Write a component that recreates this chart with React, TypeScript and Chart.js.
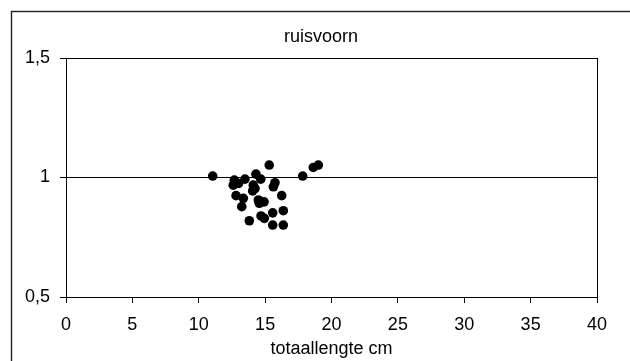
import React, { useEffect, useRef } from "react";
import { Chart, registerables } from "chart.js";

Chart.register(...registerables);

// Total length (cm) per fish
const lengthCm: number[] = [
  11.05, 12.68, 12.6, 13.0, 13.48, 14.31, 14.67, 15.31, 15.74, 15.62,
  14.11, 14.06, 14.24, 12.81, 13.36, 13.24, 14.49, 14.92, 14.56, 16.25,
  13.81, 14.69, 14.94, 15.57, 16.37, 15.57, 16.37, 17.83, 18.63, 19.01,
];

// Condition ratio per fish
const ratio: number[] = [
  1.006, 0.989, 0.968, 0.975, 0.993, 1.014, 0.993, 1.052, 0.978, 0.961,
  0.968, 0.944, 0.954, 0.924, 0.913, 0.878, 0.906, 0.898, 0.892, 0.924,
  0.819, 0.839, 0.829, 0.852, 0.861, 0.801, 0.801, 1.006, 1.042, 1.052,
];

const chartTitle = "ruisvoorn";
const xTitle = "totaallengte cm";
const xMin = 0;
const xMax = 40;
const xStep = 5;
const yMin = 0.5;
const yMax = 1.5;
const yStep = 0.5;

const FONT = "'Liberation Sans', Arial, sans-serif";

// Outer frame, plot frame and centred heading
const framePlugin = {
  id: "frame",
  beforeDraw(chart: any) {
    const { ctx } = chart;
    ctx.save();
    ctx.fillStyle = "#ffffff";
    ctx.fillRect(0, 0, chart.width, chart.height);
    ctx.strokeStyle = "#222222";
    ctx.lineWidth = 1.4;
    ctx.strokeRect(11.5, 11.5, chart.width + 20, chart.height + 20);
    ctx.fillStyle = "#000000";
    ctx.font = `18px ${FONT}`;
    ctx.textAlign = "center";
    ctx.textBaseline = "middle";
    ctx.fillText(chartTitle, 321, 37);
    ctx.restore();
  },
  afterDatasetsDraw(chart: any) {
    const { ctx, chartArea } = chart;
    ctx.save();
    ctx.strokeStyle = "#000000";
    ctx.lineWidth = 1;
    const l = Math.round(chartArea.left) + 0.5;
    const t = Math.round(chartArea.top) + 0.5;
    const r = Math.round(chartArea.right) + 0.5;
    const b = Math.round(chartArea.bottom) + 0.5;
    ctx.strokeRect(l, t, r - l, b - t);
    ctx.restore();
  },
};

export default function App() {
  const canvasRef = useRef<HTMLCanvasElement | null>(null);

  useEffect(() => {
    const canvas = canvasRef.current;
    if (!canvas) return;
    const points = lengthCm.map((x, i) => ({ x, y: ratio[i] }));
    const chart = new Chart(canvas, {
      type: "scatter",
      data: {
        datasets: [
          {
            data: points,
            backgroundColor: "#000000",
            borderColor: "#000000",
            borderWidth: 0,
            pointRadius: 4.8,
            pointHoverRadius: 4.8,
          },
        ],
      },
      plugins: [framePlugin],
      options: {
        responsive: false,
        animation: false,
        events: [],
        layout: { padding: { top: 58, right: 33, left: 0, bottom: 0 } },
        plugins: {
          legend: { display: false },
          title: { display: false },
          tooltip: { enabled: false },
        },
        scales: {
          x: {
            type: "linear",
            min: xMin,
            max: xMax,
            ticks: {
              stepSize: xStep,
              color: "#000000",
              font: { family: FONT, size: 18 },
              padding: 11,
              maxRotation: 0,
            },
            grid: {
              drawOnChartArea: false,
              drawTicks: true,
              tickLength: 6,
              color: "#000000",
            },
            border: { display: true, color: "#000000" },
            title: {
              display: true,
              text: xTitle,
              color: "#000000",
              font: { family: FONT, size: 18 },
              padding: { top: 0, bottom: 1 },
            },
            afterFit(scale: any) {
              scale.height = 64;
            },
          },
          y: {
            type: "linear",
            min: yMin,
            max: yMax,
            ticks: {
              stepSize: yStep,
              color: "#000000",
              font: { family: FONT, size: 18 },
              padding: 10,
              callback: (v: any) => String(v).replace(".", ","),
            },
            grid: {
              drawOnChartArea: true,
              drawTicks: true,
              tickLength: 6,
              color: "#000000",
            },
            border: { display: true, color: "#000000" },
            afterFit(scale: any) {
              scale.width = 66;
            },
          },
        },
      },
    });
    return () => chart.destroy();
  }, []);

  return (
    <canvas
      ref={canvasRef}
      width={630}
      height={361}
      style={{ position: "fixed", left: 0, top: 0, width: 630, height: 361 }}
    />
  );
}
